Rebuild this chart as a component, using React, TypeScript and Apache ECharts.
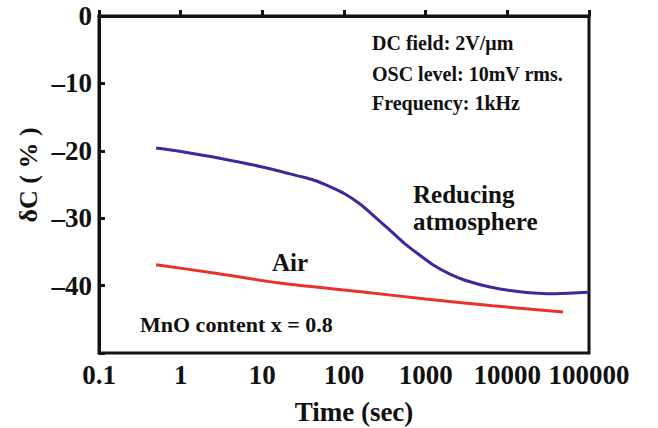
import React, { useEffect, useRef } from "react";
import * as echarts from "echarts";

const xTickLabels = ["0.1", "1", "10", "100", "1000", "10000", "100000"];
const yTicks = [0, -10, -20, -30, -40, -50];

const reducingTime = [0.5, 1, 3, 10, 29, 44, 67, 103, 157, 239, 366, 558, 852, 1300, 1985, 3030, 6135, 14290, 38300, 100000];
const reducingDC = [-19.6, -20.1, -21.1, -22.4, -23.8, -24.4, -25.3, -26.4, -27.9, -29.8, -31.8, -33.8, -35.5, -37.1, -38.3, -39.2, -40.2, -40.9, -41.2, -41.0];

const airTime = [0.5, 2.8, 18, 160, 1000, 6600, 48000];
const airDC = [-36.9, -38.2, -39.7, -40.9, -42.0, -43.0, -43.9];

const FONT = "'Liberation Serif', 'Times New Roman', serif";

export default function App() {
  const ref = useRef<HTMLDivElement>(null);
  useEffect(() => {
    if (!ref.current) return;
    const chart = echarts.init(ref.current, null, { renderer: "svg" });
    const txt = (text: string, x: number, y: number, size: number, align = "left", rotation = 0) => ({
      type: "text",
      x,
      y,
      rotation,
      style: {
        text,
        fill: "#111",
        font: `bold ${size}px ${FONT}`,
        align,
        verticalAlign: "middle",
      },
    });
    const rich = {
      t: {
        color: "#111",
        fontFamily: FONT,
        fontWeight: "bold",
        fontSize: 27,
      },
    };
    chart.setOption({
      animation: false,
      backgroundColor: "#fff",
      textStyle: { fontFamily: FONT, fontWeight: "bold" },
      grid: {
        left: 99,
        top: 16,
        right: 69,
        bottom: 75,
        show: true,
        borderColor: "#111",
        borderWidth: 3,
        backgroundColor: "transparent",
      },
      xAxis: {
        type: "log",
        logBase: 10,
        min: 0.1,
        max: 100000,
        axisLine: { show: true, lineStyle: { color: "#111", width: 3 } },
        axisTick: { show: true, inside: true, length: 6, lineStyle: { color: "#111", width: 3 } },
        minorTick: { show: false },
        splitLine: { show: false },
        axisLabel: {
          margin: 8,
          color: "#111",
          fontFamily: FONT,
          fontWeight: "bold",
          fontSize: 27,
          rich,
          formatter: (v: number) => {
            const idx = Math.round(Math.log10(v)) + 1;
            return `{t|${xTickLabels[idx] ?? ""}}`;
          },
        },
      },
      yAxis: {
        type: "value",
        min: yTicks[yTicks.length - 1],
        max: yTicks[0],
        interval: 10,
        axisLine: { show: true, lineStyle: { color: "#111", width: 3 } },
        axisTick: { show: true, inside: true, length: 6, lineStyle: { color: "#111", width: 3 } },
        splitLine: { show: false },
        axisLabel: {
          margin: 7,
          color: "#111",
          fontFamily: FONT,
          fontWeight: "bold",
          fontSize: 27,
          rich,
          formatter: (v: number) =>
            v === -50 ? "" : `{t|${v < 0 ? "\u2013" + Math.abs(v) : v}}`,
        },
      },
      series: [
        {
          type: "line",
          name: "Reducing atmosphere",
          data: reducingTime.map((t, i) => [t, reducingDC[i]]),
          smooth: 0.3,
          showSymbol: false,
          lineStyle: { color: "#3a2b9a", width: 3 },
        },
        {
          type: "line",
          name: "Air",
          data: airTime.map((t, i) => [t, airDC[i]]),
          smooth: 0.3,
          showSymbol: false,
          lineStyle: { color: "#e8322b", width: 3 },
        },
      ],
      graphic: [
        txt("DC field: 2V/\u03bcm", 372, 43, 20),
        txt("OSC level: 10mV rms.", 372, 74, 20),
        txt("Frequency: 1kHz", 372, 103, 20),
        txt("Reducing", 413, 194, 25),
        txt("atmosphere", 413, 221, 25),
        txt("Air", 272, 262, 25),
        txt("MnO content x = 0.8", 140, 324, 22),
        txt("Time (sec)", 354, 412, 27, "center"),
        txt("\u03b4C ( % )", 28, 175, 26, "center", Math.PI / 2),
      ],
    });
    return () => chart.dispose();
  }, []);
  return (
    <div
      ref={ref}
      style={{ position: "fixed", left: 0, top: 0, width: 658, height: 428 }}
    />
  );
}
